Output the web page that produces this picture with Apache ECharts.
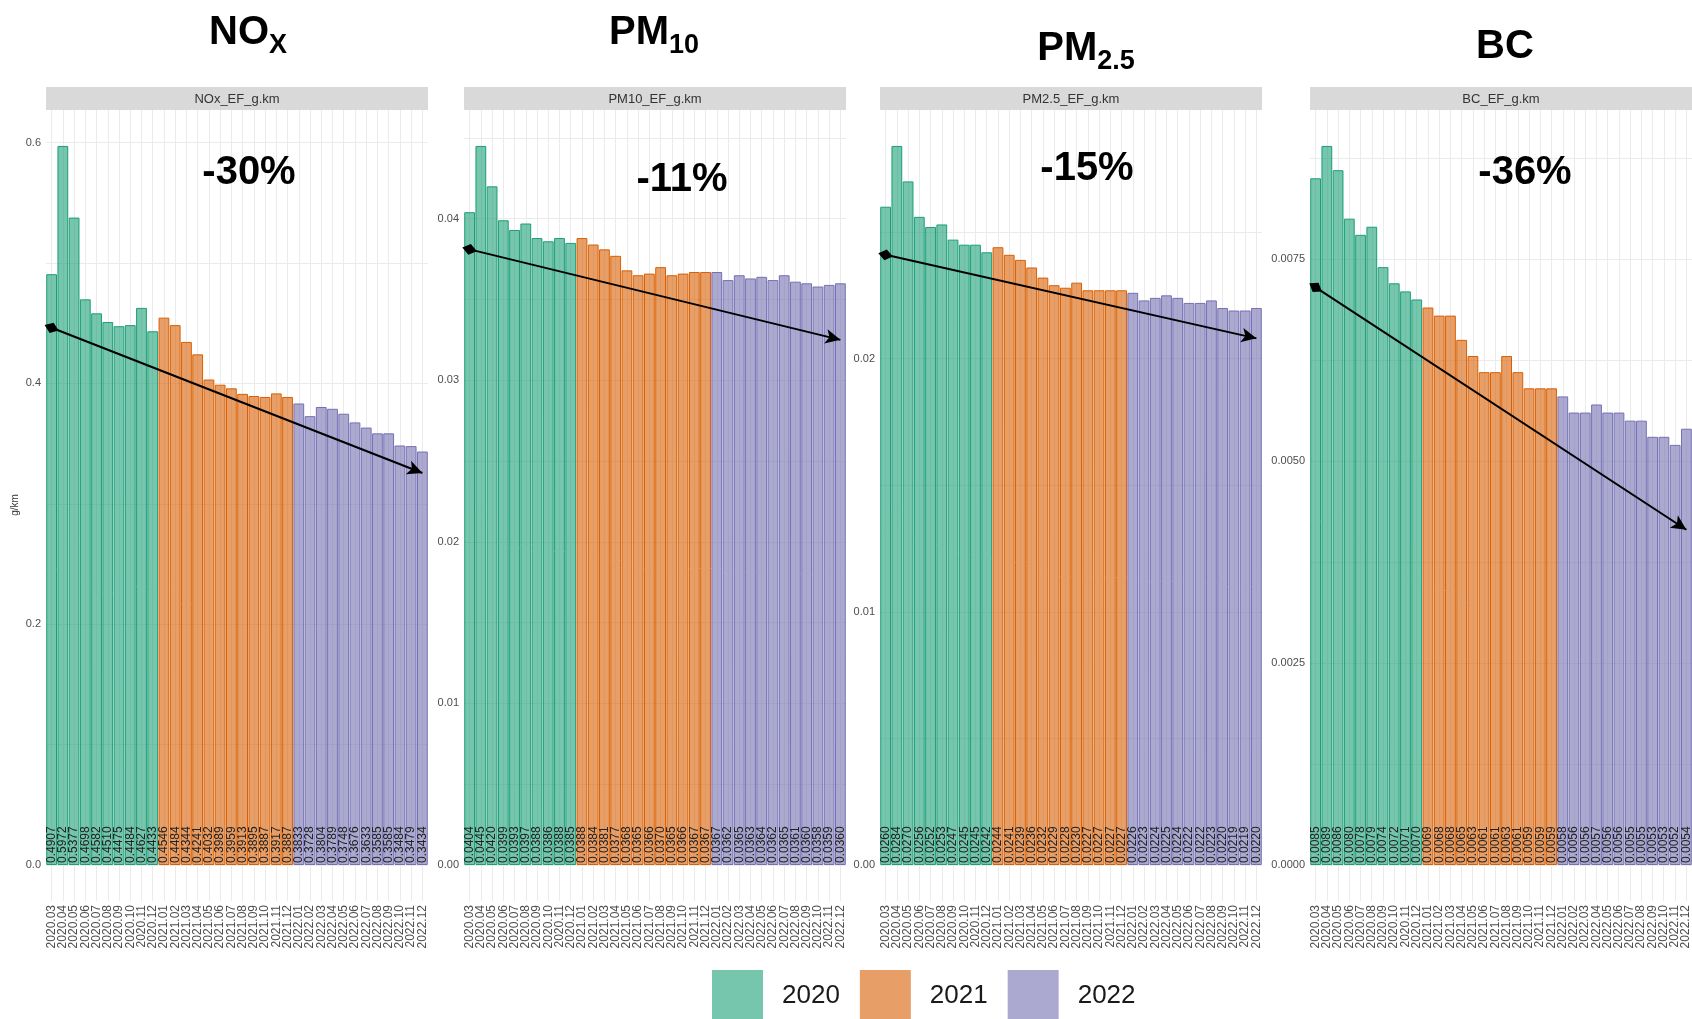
<!DOCTYPE html>
<html><head><meta charset="utf-8">
<script src="https://cdn.jsdelivr.net/npm/echarts@6/dist/echarts.min.js"></script>
<style>html,body{margin:0;padding:0;background:#fff}#c{width:1692px;height:1019px}</style>
</head><body><div id="c"></div>
<script>
const months = ['2020.03','2020.04','2020.05','2020.06','2020.07','2020.08','2020.09','2020.10','2020.11','2020.12',
  '2021.01','2021.02','2021.03','2021.04','2021.05','2021.06','2021.07','2021.08','2021.09','2021.10','2021.11','2021.12',
  '2022.01','2022.02','2022.03','2022.04','2022.05','2022.06','2022.07','2022.08','2022.09','2022.10','2022.11','2022.12'];
const years = ['2020','2021','2022'];
const noxValues = [0.4907,0.5972,0.5377,0.4698,0.4582,0.4510,0.4475,0.4484,0.4627,0.4433,
  0.4546,0.4484,0.4344,0.4241,0.4032,0.3989,0.3959,0.3913,0.3895,0.3887,0.3917,0.3887,
  0.3833,0.3728,0.3804,0.3789,0.3748,0.3676,0.3633,0.3585,0.3585,0.3484,0.3479,0.3434];
const pm10Values = [0.0404,0.0445,0.0420,0.0399,0.0393,0.0397,0.0388,0.0386,0.0388,0.0385,
  0.0388,0.0384,0.0381,0.0377,0.0368,0.0365,0.0366,0.0370,0.0365,0.0366,0.0367,0.0367,
  0.0367,0.0362,0.0365,0.0363,0.0364,0.0362,0.0365,0.0361,0.0360,0.0358,0.0359,0.0360];
const pm25Values = [0.0260,0.0284,0.0270,0.0256,0.0252,0.0253,0.0247,0.0245,0.0245,0.0242,
  0.0244,0.0241,0.0239,0.0236,0.0232,0.0229,0.0228,0.0230,0.0227,0.0227,0.0227,0.0227,
  0.0226,0.0223,0.0224,0.0225,0.0224,0.0222,0.0222,0.0223,0.0220,0.0219,0.0219,0.0220];
const bcValues = [0.0085,0.0089,0.0086,0.0080,0.0078,0.0079,0.0074,0.0072,0.0071,0.0070,
  0.0069,0.0068,0.0068,0.0065,0.0063,0.0061,0.0061,0.0063,0.0061,0.0059,0.0059,0.0059,
  0.0058,0.0056,0.0056,0.0057,0.0056,0.0056,0.0055,0.0055,0.0053,0.0053,0.0052,0.0054];
const panelValues = [noxValues, pm10Values, pm25Values, bcValues];
const stripNames = ['NOx_EF_g.km','PM10_EF_g.km','PM2.5_EF_g.km','BC_EF_g.km'];
const changeLabels = ['-30%','-11%','-15%','-36%'];
const arrowStart = [0.4462, 0.0381, 0.0241, 0.00715];
const arrowEnd = [0.3256, 0.0325, 0.0208, 0.00415];
const minorStep = [0.1, 0.005, 0.005, 0.00125];
const majorStep = [0.2, 0.01, 0.01, 0.0025];
const tickDecimals = [1, 2, 2, 4];

const FONT = 'Liberation Sans';
const lineColors = ['#1B9E77','#D95F02','#7570B3'];
const fillColors = ['rgba(27,158,119,0.6)','rgba(217,95,2,0.6)','rgba(117,112,179,0.6)'];
const gridLeft = [46, 464, 880, 1310];
const gridW = 382, gridTop = 110, gridH = 755, extH = 36;
const titleX = [243, 649, 1081, 1500];
const titleTop = [1, 1, 17, 22];
const changeX = [244, 677, 1082, 1520];
const changeTop = [148, 155, 144, 148];

const grids = [], xAxes = [], yAxes = [], series = [], titles = [], graphics = [];
const vSplit = {show:true, interval:0, alignWithLabel:true, lineStyle:{color:'#EBEBEB', width:1}};
for (let i = 0; i < 4; i++) {
  const vals = panelValues[i];
  const ymax = Math.max(...vals) * 1.05;
  grids.push({left: gridLeft[i], top: gridTop, width: gridW, height: gridH});
  xAxes.push({type:'category', gridIndex:i, data: months, boundaryGap:true,
    axisLine:{show:false}, axisTick:{show:false, alignWithLabel:true},
    splitLine: vSplit, axisLabel:{show:false}});
  const maj = majorStep[i], dec = tickDecimals[i];
  yAxes.push({type:'value', gridIndex:i, min:0, max:ymax, interval:minorStep[i],
    axisLine:{show:false}, axisTick:{show:false},
    splitLine:{show:true, showMaxLine:false, lineStyle:{color:'#EBEBEB', width:1}},
    axisLabel:{fontSize:11, color:'#4D4D4D', margin:5, fontFamily:FONT, showMaxLabel:false,
      formatter: v => { const r = v / maj; return Math.abs(r - Math.round(r)) < 1e-6 ? v.toFixed(dec) : ''; }}});
  years.forEach((yr, j) => {
    const s = {
      type:'bar', name: yr, xAxisIndex:i, yAxisIndex:i, stack:'p'+i,
      barCategoryGap:'4%',
      data: vals.map((v, k) => months[k].slice(0,4) === yr ? v : null),
      itemStyle:{color: fillColors[j], borderColor: lineColors[j], borderWidth:1},
      label:{show:true, position:'insideBottom', rotate:90, align:'left', verticalAlign:'middle',
        distance:2, fontSize:12, color:'#222', fontFamily:FONT,
        formatter: p => p.value == null ? '' : Number(p.value).toFixed(4)},
      emphasis:{disabled:true}
    };
    if (j === 0) {
      s.markLine = {silent:true, symbol:['diamond','arrow'], symbolSize:[11,15],
        lineStyle:{color:'#000', width:2, type:'solid'}, label:{show:false},
        emphasis:{disabled:true},
        data:[[{coord:[0, arrowStart[i]]},{coord:[months.length-1, arrowEnd[i]]}]]};
    }
    series.push(s);
  });
  graphics.push({type:'rect', z:50, shape:{x:gridLeft[i], y:87, width:gridW, height:23}, style:{fill:'#D9D9D9'}});
  graphics.push({type:'text', z:51, x:gridLeft[i]+gridW/2, y:99,
    style:{text:stripNames[i], fontSize:13, fill:'#333', align:'center', verticalAlign:'middle', fontFamily:FONT}});
  titles.push({text:changeLabels[i], left:changeX[i], top:changeTop[i], textAlign:'center',
    textStyle:{fontSize:40, fontWeight:'bold', color:'#000', fontFamily:FONT}});
}
// panel extension below zero (ggplot expansion) carrying the month labels
for (let i = 0; i < 4; i++) {
  grids.push({left: gridLeft[i], top: gridTop + gridH, width: gridW, height: extH});
  xAxes.push({type:'category', gridIndex:4+i, data: months, boundaryGap:true,
    axisLine:{show:false}, axisTick:{show:false, alignWithLabel:true}, splitLine: vSplit,
    axisLabel:{rotate:90, interval:0, fontSize:12, color:'#4D4D4D', margin:4, fontFamily:FONT}});
  yAxes.push({type:'value', gridIndex:4+i, min:0, max:1, show:false, splitLine:{show:false}});
}
const mainStyle = {fontSize:40, fontWeight:'bold', color:'#000', fontFamily:FONT};
const subStyle = {fontSize:27, fontWeight:'bold', color:'#000', fontFamily:FONT, padding:[26,0,0,0]};
const titleTexts = ['{a|NO}{b|X}','{a|PM}{b|10}','{a|PM}{b|2.5}','{a|BC}'];
titleTexts.forEach((t, i) => {
  titles.push({text:t, left:titleX[i], top:titleTop[i], textAlign:'center',
    textStyle:{rich:{a:mainStyle, b:subStyle}}});
});
graphics.push({type:'text', x:15, y:505, rotation:Math.PI/2,
  style:{text:'g/km', fontSize:10, fill:'#333', align:'center', verticalAlign:'middle', fontFamily:FONT}});

const chart = echarts.init(document.getElementById('c'), null, {renderer:'canvas'});
chart.setOption({
  animation:false,
  backgroundColor:'#fff',
  textStyle:{fontFamily:FONT},
  title: titles,
  grid: grids, xAxis: xAxes, yAxis: yAxes, series: series,
  legend:{data:years, left:712, top:970, padding:0, itemWidth:51, itemHeight:51, itemGap:20, icon:'rect',
    selectedMode:false, itemStyle:{borderWidth:0},
    textStyle:{fontSize:26, color:'#1a1a1a', padding:[8,0,0,14], fontFamily:FONT}},
  graphic: graphics
});
</script></body></html>
